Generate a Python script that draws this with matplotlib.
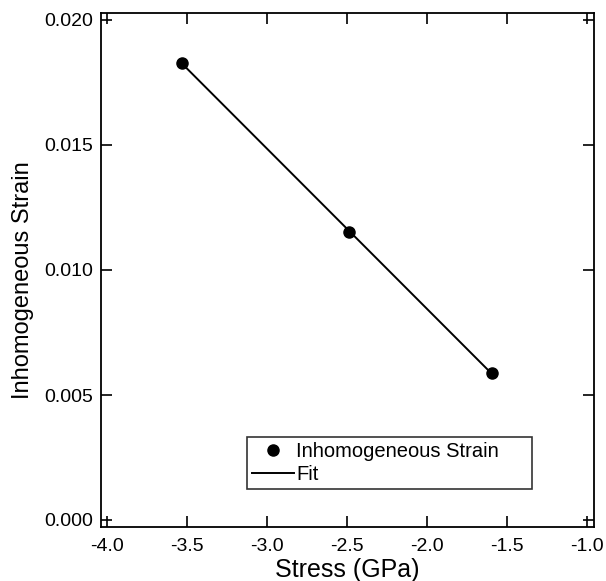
import numpy as np
import matplotlib
matplotlib.use("Agg")
from matplotlib import pyplot as plt

# data
stress = [-3.53, -2.49, -1.594]
strain = [0.01828, 0.01152, 0.00588]
x_ticks = [-4.0, -3.5, -3.0, -2.5, -2.0, -1.5, -1.0]
y_ticks = [0.000, 0.005, 0.010, 0.015, 0.020]

plt.rcParams['font.family'] = ['Liberation Sans', 'DejaVu Sans']

fig = plt.figure(figsize=(6.06, 5.81), dpi=100)
ax = fig.add_axes([101 / 606, 1 - 527 / 581, 493 / 606, 514 / 581])

# linear fit through the measured points
coef = np.polyfit(stress, strain, 1)
fit_x = np.array([min(stress), max(stress)])
ax.plot(fit_x, np.polyval(coef, fit_x), color="black", lw=1.4, label="Fit")
ax.plot(stress, strain, "o", color="black", ms=8, label="Inhomogeneous Strain")

ax.set_xlim(-4.0375, -0.956)
ax.set_ylim(-0.00028, 0.02028)
ax.set_xticks(x_ticks)
ax.set_xticklabels([f"{v:.1f}" for v in x_ticks])
ax.set_yticks(y_ticks)
ax.set_yticklabels([f"{v:.3f}" for v in y_ticks])
ax.tick_params(direction="in", length=8, width=1.2, top=True, right=True,
               labelsize=14)
ax.tick_params(axis="x", pad=8)
ax.tick_params(axis="y", pad=6)
for s in ax.spines.values():
    s.set_linewidth(1.3)

ax.set_xlabel("Stress (GPa)", fontsize=18, labelpad=2)
ax.set_ylabel("Inhomogeneous Strain", fontsize=17)
ax.yaxis.set_label_coords(-0.135, 0.48)

handles, labels = ax.get_legend_handles_labels()
leg = ax.legend(handles[::-1], labels[::-1], loc="lower left",
                bbox_to_anchor=(0.296, 0.074, 0.578, 0.093), mode="expand",
                fontsize=14.5, frameon=True, fancybox=False, edgecolor="black",
                borderpad=0.25, handlelength=2.1, handletextpad=0.1,
                labelspacing=0.2, borderaxespad=0, markerscale=1.0)
leg.get_frame().set_linewidth(1.2)

fig.savefig("out.png", dpi=100)
